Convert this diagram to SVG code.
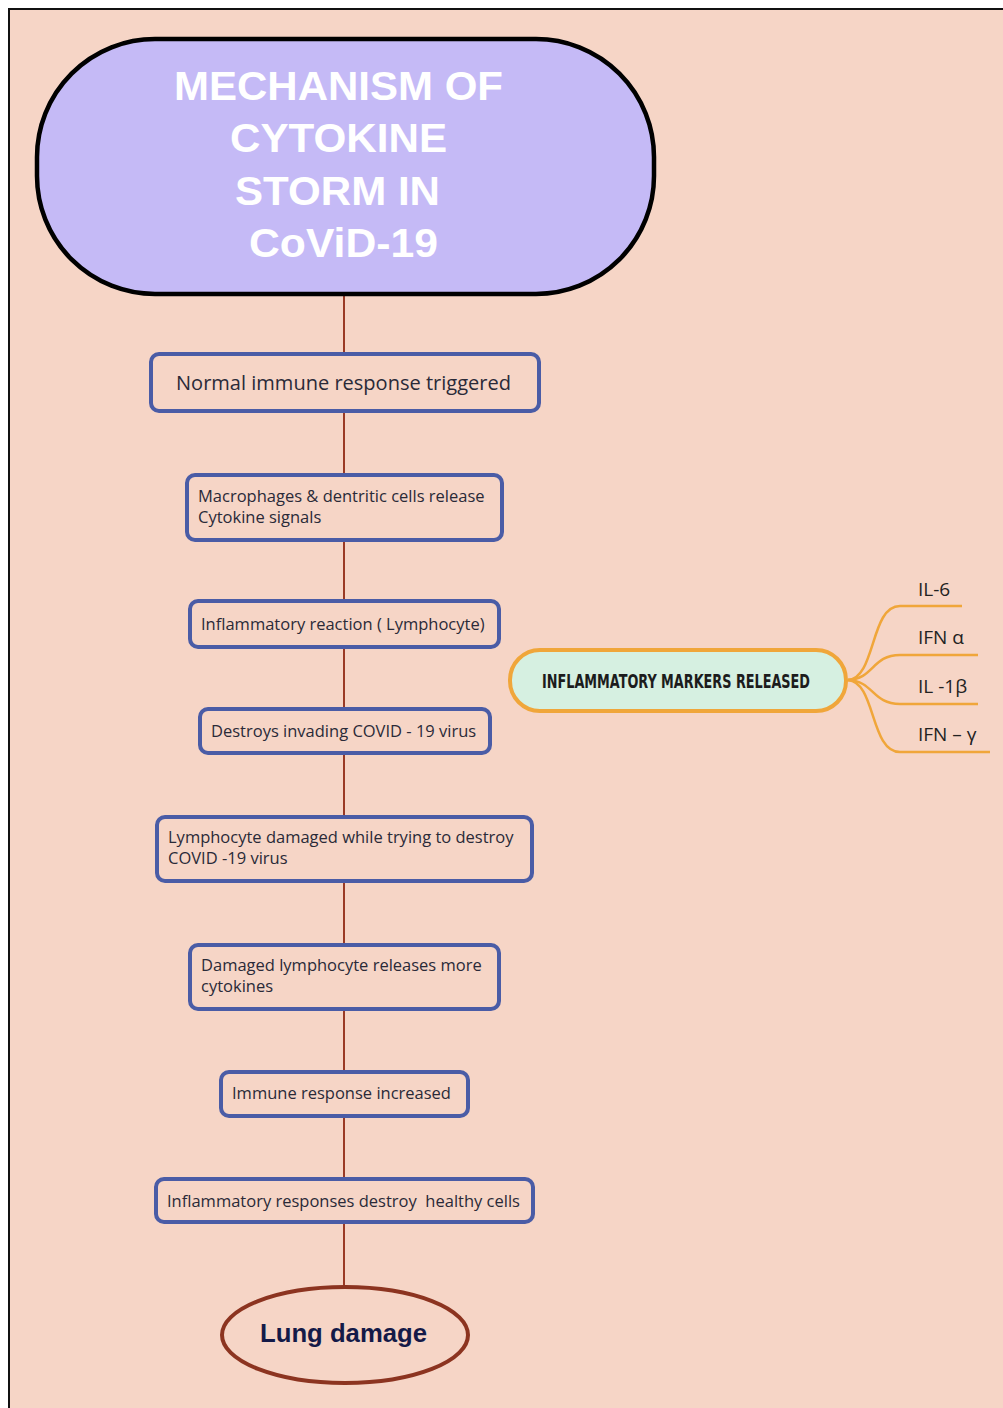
<svg xmlns="http://www.w3.org/2000/svg" width="1003" height="1408" viewBox="0 0 1003 1408">
<style>
.box{fill:#f6d5c6;stroke:#4a5ca6;stroke-width:4}
.t{font-family:"Open Sans","Liberation Sans",sans-serif;font-size:16.5px;fill:#2a2a38}
.big{font-size:20px}
.conn{stroke:#9a3a25;stroke-width:2;fill:none}
.br{stroke:#f0a63a;stroke-width:2.5;fill:none}
.lab{font-family:"Open Sans","Liberation Sans",sans-serif;font-size:19px;fill:#222}
</style>
<rect x="0" y="0" width="1003" height="1408" fill="#ffffff"/>
<rect x="9" y="9" width="1010" height="1420" fill="#f6d5c6" stroke="#111" stroke-width="2"/>
<g id="connectors">
<line class="conn" x1="344" y1="294" x2="344" y2="1288"/>
<path class="br" d="M848,680 C876,678 870,606 900,606 L962,606"/>
<path class="br" d="M848,680 C874,679 872,655 900,655 L978,655"/>
<path class="br" d="M848,680 C874,681 872,704 900,704 L978,704"/>
<path class="br" d="M848,680 C876,682 870,752 900,752 L990,752"/>
</g>
<g id="title">
<rect x="37" y="39" width="617" height="255" rx="118" ry="118" fill="#c5baf6" stroke="#000" stroke-width="4.5"/>
<g font-family="'Liberation Sans',Arial,sans-serif" font-weight="bold" font-size="40" fill="#ffffff">
<text x="174" y="100" textLength="329" lengthAdjust="spacingAndGlyphs">MECHANISM OF</text>
<text x="230" y="152" textLength="217" lengthAdjust="spacingAndGlyphs">CYTOKINE</text>
<text x="235" y="205" textLength="205" lengthAdjust="spacingAndGlyphs">STORM IN</text>
<text x="249" y="257" textLength="189" lengthAdjust="spacingAndGlyphs">CoViD-19</text>
</g>
</g>
<g id="n1"><rect class="box" x="151" y="354" width="388" height="57" rx="8"/>
<text class="t big" x="176" y="390" textLength="335" lengthAdjust="spacingAndGlyphs">Normal immune response triggered</text></g>
<g id="n2"><rect class="box" x="187" y="475" width="315" height="65" rx="8"/>
<text class="t" x="198" y="502">Macrophages &amp; dentritic cells release</text>
<text class="t" x="198" y="523">Cytokine signals</text></g>
<g id="n3"><rect class="box" x="190" y="601" width="309" height="46" rx="8"/>
<text class="t" x="201" y="630">Inflammatory reaction ( Lymphocyte)</text></g>
<g id="n4"><rect class="box" x="200" y="709" width="290" height="44" rx="8"/>
<text class="t" x="211" y="737">Destroys invading COVID - 19 virus</text></g>
<g id="n5"><rect class="box" x="157" y="817" width="375" height="64" rx="8"/>
<text class="t" x="168" y="843">Lymphocyte damaged while trying to destroy</text>
<text class="t" x="168" y="864">COVID -19 virus</text></g>
<g id="n6"><rect class="box" x="190" y="945" width="309" height="64" rx="8"/>
<text class="t" x="201" y="971">Damaged lymphocyte releases more</text>
<text class="t" x="201" y="992">cytokines</text></g>
<g id="n7"><rect class="box" x="221" y="1072" width="247" height="44" rx="8"/>
<text class="t" x="232" y="1099">Immune response increased</text></g>
<g id="n8"><rect class="box" x="156" y="1179" width="377" height="43" rx="8"/>
<text class="t" x="167" y="1207" xml:space="preserve">Inflammatory responses destroy  healthy cells</text></g>
<g id="lung"><ellipse cx="345" cy="1335" rx="123" ry="48" fill="#f6d5c6" stroke="#8c3420" stroke-width="4"/>
<text x="260" y="1342" font-family="'Liberation Sans',Arial,sans-serif" font-weight="bold" font-size="26" fill="#141a48" textLength="167" lengthAdjust="spacingAndGlyphs">Lung damage</text></g>
<g id="markers"><rect x="510" y="650" width="336" height="61" rx="30" fill="#d6f0e1" stroke="#f0a63a" stroke-width="4"/>
<text x="542" y="688" font-family="'DejaVu Sans Condensed','Liberation Sans',sans-serif" font-weight="bold" font-size="19" fill="#1c1c1c" textLength="268" lengthAdjust="spacingAndGlyphs">INFLAMMATORY MARKERS RELEASED</text></g>
<g id="labels">
<text class="lab" x="918" y="596">IL-6</text>
<text class="lab" x="918" y="644">IFN α</text>
<text class="lab" x="918" y="693">IL -1β</text>
<text class="lab" x="918" y="741">IFN – γ</text>
</g>
</svg>
